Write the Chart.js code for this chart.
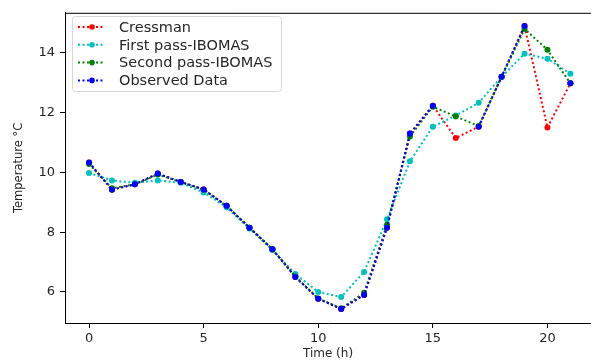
<!DOCTYPE html>
<html><head><meta charset="utf-8">
<script src="https://cdn.jsdelivr.net/npm/chart.js@4"></script>
<style>html,body{margin:0;padding:0;background:#fff}#wrap{width:591px;height:363px;position:relative}</style>
</head><body><div id="wrap"><canvas id="c" width="591" height="363"></canvas></div>
<script>
const hours = [0,1,2,3,4,5,6,7,8,9,10,11,12,13,14,15,16,17,18,19,20,21];
const cressman   = [10.33,9.42,9.6,9.96,9.68,9.43,8.88,8.15,7.43,6.5,5.77,5.43,5.9,8.15,11.3,12.23,11.15,11.53,13.2,14.9,11.5,12.98];
const firstPass  = [9.98,9.73,9.65,9.73,9.65,9.33,8.83,8.12,7.4,6.6,6.0,5.83,6.67,8.43,10.37,11.53,11.9,12.33,13.2,13.97,13.8,13.3];
const secondPass = [10.28,9.47,9.6,9.93,9.68,9.42,8.88,8.15,7.43,6.52,5.78,5.45,5.97,8.25,11.2,12.2,11.87,11.55,13.2,14.8,14.1,12.98];
const observed   = [10.33,9.42,9.6,9.96,9.68,9.43,8.88,8.15,7.43,6.5,5.77,5.43,5.9,8.15,11.3,12.23,null,11.53,13.2,14.9,null,12.98];
const seriesNames = ['Cressman','First pass-IBOMAS','Second pass-IBOMAS','Observed Data'];
const seriesColors = ['#ff0000','#00bfbf','#008000','#0000ff'];
const xTicks = [0,5,10,15,20];
const yTicks = [6,8,10,12,14];

const allSeries = [cressman, firstPass, secondPass, observed];
const DASH = [2,2.5];
const datasets = allSeries.map((s,i)=>({
  label: seriesNames[i],
  data: hours.map((h,j)=>({x:h, y:s[j]})),
  borderColor: seriesColors[i],
  backgroundColor: seriesColors[i],
  borderWidth: 2,
  borderDash: DASH,
  pointRadius: 3,
  pointBorderWidth: 0,
  pointBackgroundColor: seriesColors[i],
  tension: 0,
  spanGaps: false,
  order: 4 - i
}));

const frameLegend = {
  id: 'frameLegend',
  afterDraw(chart) {
    const ctx = chart.ctx, a = chart.chartArea;
    ctx.save();
    ctx.strokeStyle = '#000'; ctx.lineWidth = 1;
    ctx.beginPath(); ctx.moveTo(a.left, a.top + 0.5); ctx.lineTo(a.right, a.top + 0.5); ctx.stroke();
    // legend
    const bx = 72, by = 16, bw = 209, bh = 75, r = 3;
    ctx.fillStyle = 'rgba(255,255,255,0.85)';
    ctx.strokeStyle = '#d6d6d6';
    ctx.beginPath();
    ctx.roundRect(bx + 0.5, by + 0.5, bw, bh, r);
    ctx.fill(); ctx.stroke();
    ctx.font = '14.5px "DejaVu Sans"';
    ctx.textBaseline = 'middle';
    seriesNames.forEach((n, i) => {
      const y = 27 + i * 17.8;
      ctx.strokeStyle = seriesColors[i];
      ctx.lineWidth = 2;
      ctx.setLineDash(DASH);
      ctx.beginPath(); ctx.moveTo(78, y); ctx.lineTo(104, y); ctx.stroke();
      ctx.setLineDash([]);
      ctx.fillStyle = seriesColors[i];
      ctx.beginPath(); ctx.arc(92, y, 2.8, 0, Math.PI * 2); ctx.fill();
      ctx.fillStyle = '#262626';
      ctx.fillText(n, 119, y + 1);
    });
    ctx.restore();
  }
};

new Chart(document.getElementById('c'), {
  type: 'line',
  data: { datasets },
  options: {
    responsive: false,
    animation: false,
    devicePixelRatio: 1,
    layout: { autoPadding: false, padding: { top: 11, right: 0, left: 0, bottom: 0 } },
    plugins: { legend: { display: false }, tooltip: { enabled: false } },
    scales: {
      x: {
        type: 'linear', min: -1.05, max: 21.9,
        afterBuildTicks: s => { s.ticks = xTicks.map(v => ({ value: v })); },
        afterFit: s => { s.height = 40; },
        ticks: { font: { family: 'DejaVu Sans', size: 13 }, color: '#262626', padding: 3, maxRotation: 0 },
        grid: { drawOnChartArea: false, drawTicks: true, tickLength: 5, color: '#000', tickWidth: 1 },
        border: { display: true, color: '#000', width: 1 },
        title: { display: true, text: 'Time (h)', font: { family: 'DejaVu Sans', size: 12 }, color: '#262626', padding: { top: 0, bottom: 2 } }
      },
      y: {
        type: 'linear', min: 4.96, max: 15.34,
        afterBuildTicks: s => { s.ticks = yTicks.map(v => ({ value: v })); },
        afterFit: s => { s.width = 65; },
        ticks: { font: { family: 'DejaVu Sans', size: 13 }, color: '#262626', padding: 5 },
        grid: { drawOnChartArea: false, drawTicks: true, tickLength: 5, color: '#000', tickWidth: 1 },
        border: { display: true, color: '#000', width: 1 },
        title: { display: true, text: 'Temperature °C', font: { family: 'DejaVu Sans', size: 11.5 }, color: '#262626', padding: { top: 12, bottom: 0 } }
      }
    }
  },
  plugins: [frameLegend]
});
</script>
</body></html>
